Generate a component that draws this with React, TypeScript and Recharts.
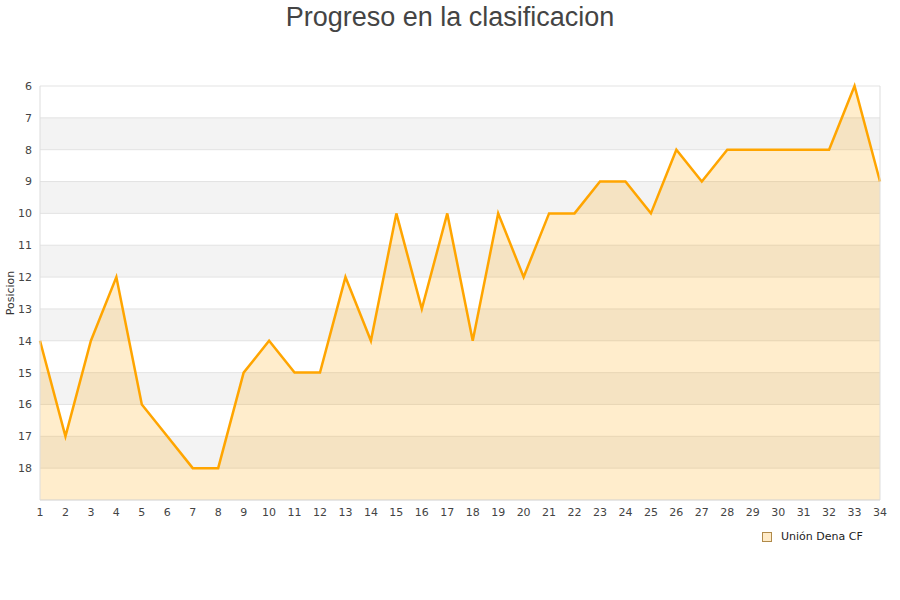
import { ComposedChart, Area, XAxis, YAxis, CartesianGrid, ReferenceLine } from 'recharts';

const jornadas = [
  1, 2, 3, 4, 5, 6, 7, 8, 9, 10, 11, 12, 13, 14, 15, 16, 17,
  18, 19, 20, 21, 22, 23, 24, 25, 26, 27, 28, 29, 30, 31, 32, 33, 34,
];
const posiciones = [
  14, 17, 14, 12, 16, 17, 18, 18, 15, 14, 15, 15, 12, 14, 10, 13, 10,
  14, 10, 12, 10, 10, 9, 9, 10, 8, 9, 8, 8, 8, 8, 8, 6, 9,
];
const yTicks = [6, 7, 8, 9, 10, 11, 12, 13, 14, 15, 16, 17, 18];
const teamName = 'Unión Dena CF';

const data = jornadas.map((j, i) => ({ jornada: j, pos: posiciones[i] }));

const ORANGE = '#ffa500';
const BORDER = '#dddddd';
const tickStyle = { fill: '#444', fontSize: 11, fontFamily: 'DejaVu Sans' };

// rotated axis title
const YTitle = (props: any) => {
  const { viewBox } = props;
  const cx = 14;
  const cy = viewBox.y + viewBox.height / 2;
  return (
    <text x={cx} y={cy} transform={`rotate(-90 ${cx} ${cy})`} textAnchor="middle" fill="#333" fontSize={11} fontFamily="DejaVu Sans">
      Posicion
    </text>
  );
};

export default function App() {
  return (
    <div style={{ position: 'absolute', left: 0, top: 0, width: 900, height: 600, background: '#fff' }}>
      <div
        style={{
          position: 'absolute', top: 1, left: 0, width: 900, textAlign: 'center',
          fontFamily: 'Liberation Sans', fontSize: 27, lineHeight: '32px', color: '#444',
        }}
      >
        Progreso en la clasificacion
      </div>
      <ComposedChart width={900} height={600} data={data} margin={{ top: 86, right: 20, bottom: 70, left: 0 }}>
        <CartesianGrid vertical={false} stroke="#e3e3e3" horizontalFill={['#ffffff', '#f3f3f3']} fillOpacity={1} />
        <XAxis
          dataKey="jornada"
          type="number"
          domain={[1, 34]}
          ticks={jornadas}
          interval={0}
          tickLine={false}
          axisLine={{ stroke: BORDER }}
          tick={tickStyle}
          height={30}
        />
        <YAxis
          type="number"
          domain={[6, 19]}
          reversed
          ticks={yTicks}
          interval={0}
          tickLine={false}
          axisLine={{ stroke: BORDER }}
          tick={tickStyle}
          width={40}
          label={<YTitle />}
        />
        <ReferenceLine x={34} stroke={BORDER} />
        <Area
          type="linear"
          dataKey="pos"
          name={teamName}
          baseValue={19}
          stroke={ORANGE}
          strokeWidth={2.5}
          fill={ORANGE}
          fillOpacity={0.2}
          dot={false}
          activeDot={false}
          isAnimationActive={false}
        />
      </ComposedChart>
      {/* legend, bottom-right */}
      <div
        style={{
          position: 'absolute', left: 762, top: 530, display: 'flex', alignItems: 'center',
          fontFamily: 'DejaVu Sans', fontSize: 11, color: '#222', lineHeight: '14px',
        }}
      >
        <span style={{ width: 8, height: 8, border: '1px solid #b08a4a', background: '#ffebc8', marginRight: 9 }} />
        <span>{teamName}</span>
      </div>
    </div>
  );
}
